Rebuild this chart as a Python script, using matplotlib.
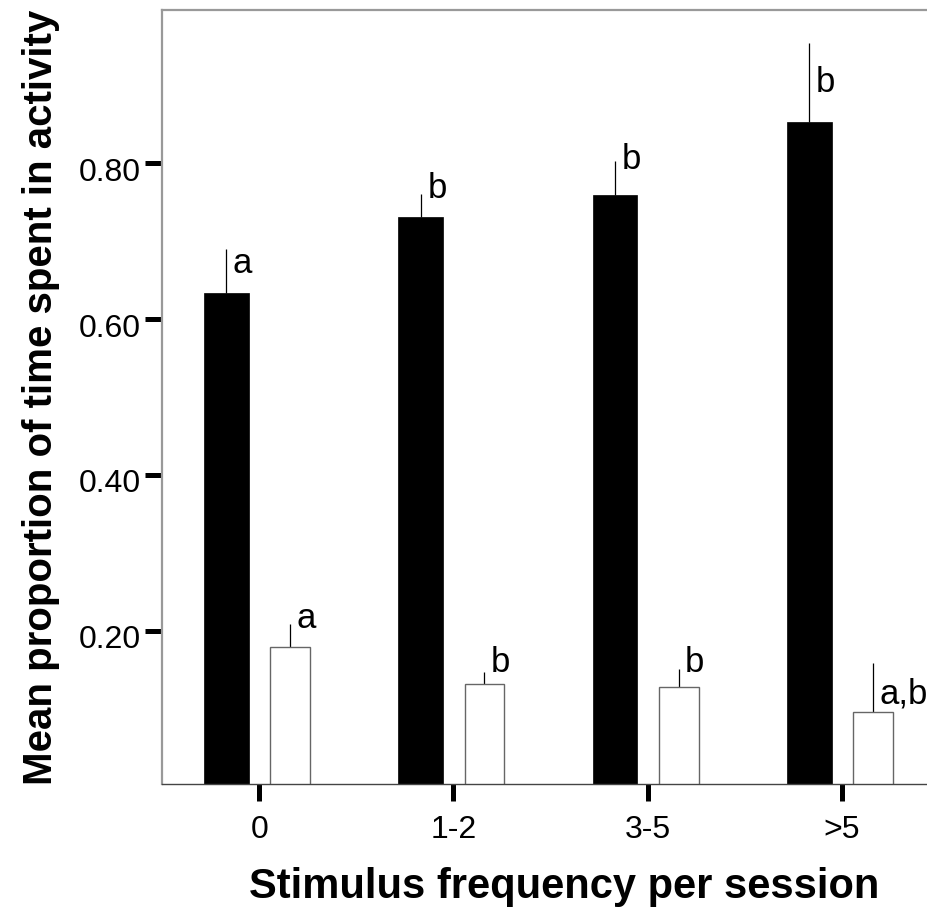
import numpy as np
import matplotlib
matplotlib.use("Agg")
import matplotlib.pyplot as plt
import matplotlib.transforms as mtransforms

plt.rcParams['font.family'] = ['Liberation Sans', 'DejaVu Sans']

# Data
categories = ['0', '1-2', '3-5', '>5']
black_means = [0.634, 0.731, 0.759, 0.853]
black_errs = [0.056, 0.030, 0.044, 0.102]
white_means = [0.179, 0.131, 0.127, 0.096]
white_errs = [0.030, 0.016, 0.024, 0.062]
black_letters = ['a', 'b', 'b', 'b']
white_letters = ['a', 'b', 'b', 'a,b']
# baseline heights of the letters (data units)
black_letter_y = [0.659, 0.7555, 0.793, 0.892]
white_letter_y = [0.2035, 0.147, 0.147, 0.107]

x = np.arange(len(categories))
black_off = -0.168
white_off = 0.16

fig = plt.figure(figsize=(9.27, 9.11), dpi=100)
ax = fig.add_axes([0.17476, 0.13941, 0.83819, 0.84962])

# bars with upward-only error lines
ax.bar(x + black_off, black_means, width=0.23, color='black',
       edgecolor='black', linewidth=0.5, zorder=2)
ax.bar(x + white_off, white_means, width=0.205, color='white',
       edgecolor='#666666', linewidth=1.0, zorder=2)
ax.vlines(x + black_off, np.array(black_means),
          np.array(black_means) + np.array(black_errs),
          color='black', linewidth=0.9, zorder=1)
ax.vlines(x + white_off, np.array(white_means),
          np.array(white_means) + np.array(white_errs),
          color='black', linewidth=0.9, zorder=1)

# significance letters
shift = mtransforms.ScaledTranslation(0.065, 0, fig.dpi_scale_trans)
for i in range(len(categories)):
    ax.text(x[i] + black_off, black_letter_y[i], black_letters[i],
            fontsize=25, ha='left', va='baseline',
            transform=ax.transData + shift)
    ax.text(x[i] + white_off, white_letter_y[i], white_letters[i],
            fontsize=25, ha='left', va='baseline',
            transform=ax.transData + shift)

ax.set_xlim(-0.5, 3.5)
ax.set_ylim(0.003, 0.997)
ax.set_xticks(x)
ax.set_xticklabels(categories)
ax.set_yticks([0.2, 0.4, 0.6, 0.8])
ax.set_yticklabels(['0.20', '0.40', '0.60', '0.80'])

ax.tick_params(axis='both', direction='out', length=12, width=3.6,
               color='black', labelsize=23)
ax.tick_params(axis='x', pad=10)
ax.tick_params(axis='y', pad=3)
ydown = mtransforms.ScaledTranslation(0, -0.06, fig.dpi_scale_trans)
for lbl in ax.get_yticklabels():
    lbl.set_transform(lbl.get_transform() + ydown)

# spines
ax.spines['right'].set_visible(False)
for s in ['left', 'top']:
    ax.spines[s].set_color('#999999')
    ax.spines[s].set_linewidth(1.6)
ax.spines['bottom'].set_color('#444444')
ax.spines['bottom'].set_linewidth(1.0)

ax.set_xlabel('Stimulus frequency per session', fontsize=30,
              fontweight='bold', labelpad=16, x=0.517)
ax.set_ylabel('Mean proportion of time spent in activity', fontsize=29,
              fontweight='bold', labelpad=14)

fig.savefig('out.png', dpi=100)
